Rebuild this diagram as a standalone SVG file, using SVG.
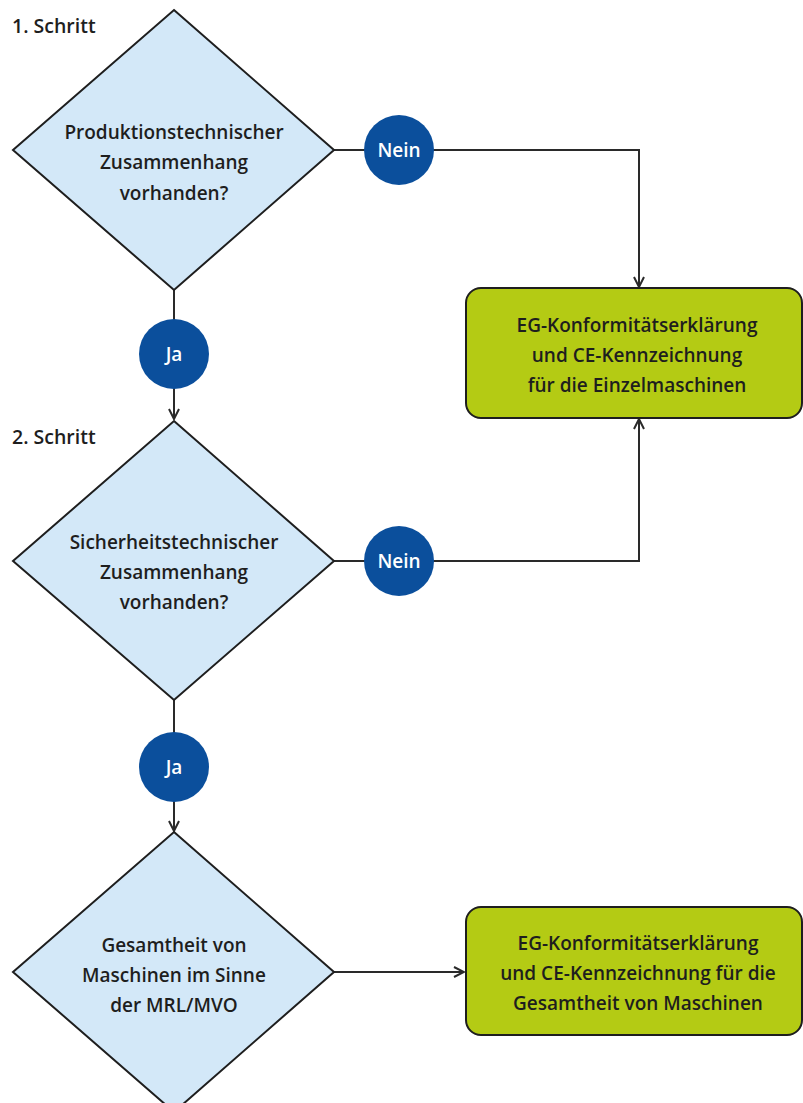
<svg xmlns="http://www.w3.org/2000/svg" width="803" height="1103" viewBox="0 0 803 1103">
  <style>
    .lbl { font-family: "Open Sans", "Liberation Sans", sans-serif; font-weight: 600; font-size: 19px; fill: #1e1e1e; text-anchor: middle; }
    .step { font-family: "Open Sans", "Liberation Sans", sans-serif; font-weight: 600; font-size: 19.5px; fill: #1e1e1e; }
    .dec { fill: #d3e8f8; stroke: #1e1e1e; stroke-width: 2; }
    .res { fill: #b4cb14; stroke: #1e1e1e; stroke-width: 2; }
    .tag { fill: #0b4f9c; }
    .tagtxt { font-family: "Open Sans", "Liberation Sans", sans-serif; font-weight: 600; font-size: 19px; fill: #ffffff; text-anchor: middle; }
    .wire { fill: none; stroke: #2a2a2a; stroke-width: 2; }
  </style>
  <defs>
    <marker id="arr" viewBox="0 0 12 12" refX="11" refY="6" markerWidth="12" markerHeight="12" markerUnits="userSpaceOnUse" orient="auto">
      <path d="M1,1 L11,6 L1,11" fill="none" stroke="#2a2a2a" stroke-width="2"/>
    </marker>
  </defs>

  <rect width="803" height="1103" fill="#ffffff"/>

  <text class="step" x="12" y="33">1. Schritt</text>
  <text class="step" x="12" y="444">2. Schritt</text>

  <!-- connectors -->
  <g id="connectors">
    <path class="wire" d="M334,150 H639 V287" marker-end="url(#arr)"/>
    <path class="wire" d="M334,561 H639 V419" marker-end="url(#arr)"/>
    <path class="wire" d="M174,290 V419" marker-end="url(#arr)"/>
    <path class="wire" d="M174,700 V831" marker-end="url(#arr)"/>
    <path class="wire" d="M334,972 H464" marker-end="url(#arr)"/>
  </g>

  <g id="q1">
    <polygon class="dec" points="174,10 334,150 174,290 13,150"/>
    <text class="lbl" x="174" y="139">Produktionstechnischer</text>
    <text class="lbl" x="174" y="169">Zusammenhang</text>
    <text class="lbl" x="174" y="200">vorhanden?</text>
  </g>

  <g id="q2">
    <polygon class="dec" points="174,421 334,561 174,700 13,561"/>
    <text class="lbl" x="174" y="549">Sicherheitstechnischer</text>
    <text class="lbl" x="174" y="579">Zusammenhang</text>
    <text class="lbl" x="174" y="609">vorhanden?</text>
  </g>

  <g id="q3">
    <polygon class="dec" points="174,832 334,972 174,1112 13,972"/>
    <text class="lbl" x="174" y="952">Gesamtheit von</text>
    <text class="lbl" x="174" y="982">Maschinen im Sinne</text>
    <text class="lbl" x="174" y="1012">der MRL/MVO</text>
  </g>

  <g id="nein1">
    <circle class="tag" cx="399" cy="150" r="35"/>
    <text class="tagtxt" x="399" y="157">Nein</text>
  </g>
  <g id="nein2">
    <circle class="tag" cx="399" cy="561" r="35"/>
    <text class="tagtxt" x="399" y="568">Nein</text>
  </g>
  <g id="ja1">
    <circle class="tag" cx="174" cy="354" r="35"/>
    <text class="tagtxt" x="174" y="361">Ja</text>
  </g>
  <g id="ja2">
    <circle class="tag" cx="174" cy="767" r="35"/>
    <text class="tagtxt" x="174" y="774">Ja</text>
  </g>

  <g id="einzel">
    <rect class="res" x="466" y="288" width="336" height="130" rx="15"/>
    <text class="lbl" x="637" y="332">EG-Konformitätserklärung</text>
    <text class="lbl" x="637" y="362">und CE-Kennzeichnung</text>
    <text class="lbl" x="637" y="392">für die Einzelmaschinen</text>
  </g>

  <g id="gesamt">
    <rect class="res" x="466" y="907" width="336" height="128" rx="15"/>
    <text class="lbl" x="638" y="950">EG-Konformitätserklärung</text>
    <text class="lbl" x="638" y="980">und CE-Kennzeichnung für die</text>
    <text class="lbl" x="638" y="1010">Gesamtheit von Maschinen</text>
  </g>
</svg>
